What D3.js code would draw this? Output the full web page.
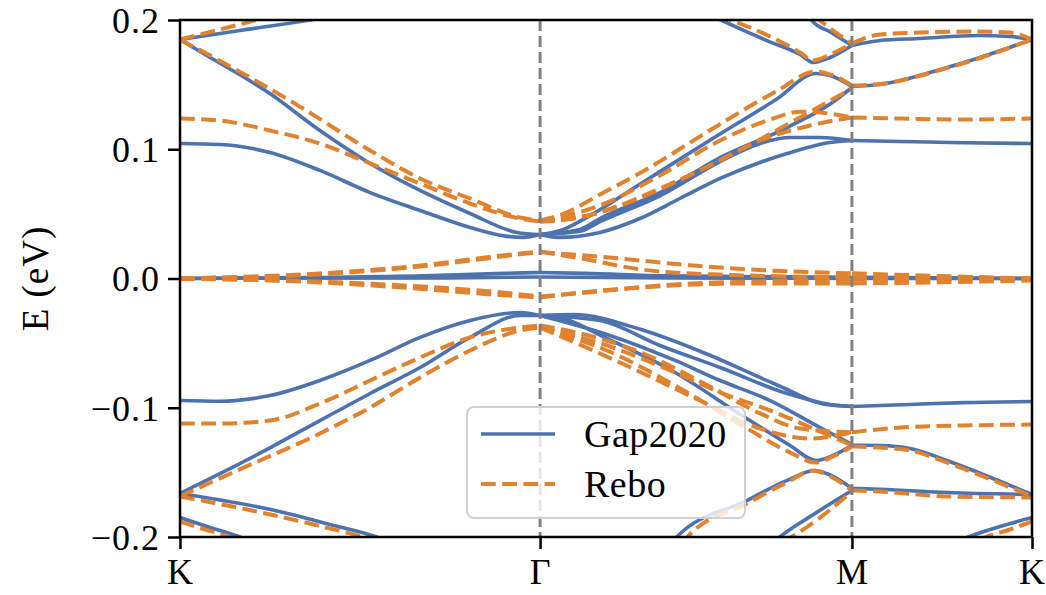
<!DOCTYPE html>
<html>
<head>
<meta charset="utf-8">
<script src="https://cdn.jsdelivr.net/npm/d3@7"></script>
<style>
  html, body { margin: 0; padding: 0; background: #fff; }
  svg text { font-family: "Liberation Serif", "DejaVu Serif", serif; fill: #000; }
</style>
</head>
<body>
<div id="chart"></div>
<script>

// high symmetry path K - Gamma - M - K (path length units)
var kTicks = [0, 1.3333, 2.4880, 3.1547];
var kLabels = ['K', 'Γ', 'M', 'K'];
var eTicks = [-0.2, -0.1, 0.0, 0.1, 0.2];

var seriesNames = ['Gap2020', 'Rebo'];
var seriesColors = ['#4c72b0', '#e1822f'];

// Gap2020 bands, [k, E (eV)]
var gapBands = [
  [[0,0.1044],[0.148,0.1037],[0.333,0.0975],[0.518,0.0836],[0.704,0.0665],[0.889,0.0526],[1.074,0.0395],[1.2,0.0330],[1.27,0.0318],[1.333,0.0340],[1.40,0.0318],[1.555,0.0356],[1.703,0.0464],[1.851,0.0619],[2.0,0.0774],[2.248,0.0967],[2.407,0.1052],[2.488,0.1068],[2.666,0.1060],[2.9,0.1050],[3.155,0.1044]],
  [[0,0.1849],[0.074,0.1756],[0.333,0.1431],[0.518,0.1145],[0.704,0.0890],[0.889,0.0681],[1.074,0.0503],[1.248,0.0356],[1.333,0.0340],[1.42,0.0380],[1.518,0.0487],[1.707,0.0735],[1.955,0.1060],[2.207,0.1385],[2.355,0.1586],[2.407,0.1571],[2.488,0.1485],[2.592,0.1501],[2.84,0.1632],[2.962,0.1710],[3.155,0.1849]],
  [[1.333,0.0340],[1.481,0.0380],[1.555,0.0464],[1.777,0.0665],[2.0,0.0936],[2.248,0.1168],[2.407,0.1350],[2.488,0.1478]],
  [[1.333,0.0340],[1.481,0.0365],[1.555,0.0440],[1.777,0.0640],[2.0,0.0905],[2.148,0.1045],[2.259,0.1091],[2.37,0.1091],[2.488,0.1068]],
  [[0,0],[0.5,0.0008],[0.9,0.0020],[1.2,0.0040],[1.333,0.0046],[1.5,0.0040],[1.8,0.0020],[2.488,0.0010],[3.155,0]],
  [[0,0],[1.0,0.0005],[1.333,0.0012],[1.8,0.0005],[2.488,0],[3.155,0]],
  [[0,0.1849],[0.222,0.1919],[0.47,0.1996],[0.55,0.2025]],
  [[1.966,0.2035],[2.007,0.1996],[2.173,0.1841],[2.296,0.1733],[2.344,0.1671],[2.407,0.1710],[2.488,0.1803],[2.592,0.1841],[2.74,0.1857],[2.955,0.1880],[3.073,0.1872],[3.155,0.1849]],
  [[2.325,0.2043],[2.34,0.1996],[2.411,0.1903],[2.488,0.1803]],
  [[0,-0.0944],[0.148,-0.0950],[0.333,-0.0906],[0.518,-0.0789],[0.704,-0.0634],[0.889,-0.0456],[1.074,-0.0325],[1.259,-0.0263],[1.333,-0.0286],[1.459,-0.0279],[1.707,-0.0395],[1.955,-0.0588],[2.207,-0.0820],[2.392,-0.0975],[2.488,-0.0990],[2.7,-0.0975],[2.9,-0.0960],[3.155,-0.0952]],
  [[0,-0.1663],[0.148,-0.1510],[0.333,-0.1310],[0.518,-0.1099],[0.704,-0.0890],[0.889,-0.0689],[1.074,-0.0456],[1.259,-0.0286],[1.333,-0.0286],[1.555,-0.0325],[1.777,-0.0518],[2.0,-0.0689],[2.248,-0.0890],[2.407,-0.0975],[2.488,-0.0990]],
  [[1.333,-0.0286],[1.407,-0.0302],[1.581,-0.0464],[1.833,-0.0727],[2.081,-0.1060],[2.259,-0.1292],[2.355,-0.1408],[2.418,-0.1369],[2.488,-0.1290],[2.592,-0.1292],[2.703,-0.1315],[2.84,-0.1408],[2.955,-0.1501],[3.155,-0.1671]],
  [[1.333,-0.0286],[1.581,-0.0433],[1.833,-0.0634],[2.0,-0.0789],[2.185,-0.0944],[2.37,-0.1153],[2.488,-0.1284]],
  [[1.82,-0.2055],[1.837,-0.2004],[2.099,-0.1718],[2.25,-0.1560],[2.351,-0.1486],[2.407,-0.1520],[2.488,-0.1625],[2.592,-0.1630],[2.84,-0.1656],[3.155,-0.1671]],
  [[2.2,-0.2035],[2.218,-0.2004],[2.351,-0.1818],[2.488,-0.1640]],
  [[0,-0.1663],[0.352,-0.1795],[0.555,-0.1903],[0.733,-0.2004],[0.76,-0.2025]],
  [[0,-0.1849],[0.111,-0.1926],[0.226,-0.2004],[0.25,-0.2025]],
  [[2.88,-0.2035],[2.914,-0.2004],[3.036,-0.1919],[3.155,-0.1849]]
];

// Rebo bands, [k, E (eV)]
var reboBands = [
  [[0,0.1849],[0.211,0.1612],[0.444,0.1330],[0.704,0.0990],[0.889,0.0774],[1.074,0.0619],[1.259,0.0472],[1.333,0.0449],[1.42,0.0500],[1.555,0.0650],[1.707,0.0820],[1.955,0.1137],[2.207,0.1447],[2.355,0.1601],[2.418,0.1571],[2.488,0.1493],[2.592,0.1505],[2.84,0.1628],[2.962,0.1706],[3.155,0.1849]],
  [[0,0.1238],[0.148,0.1222],[0.333,0.1145],[0.518,0.1044],[0.704,0.0890],[0.889,0.0735],[1.074,0.0580],[1.259,0.0464],[1.333,0.0441],[1.481,0.0472],[1.629,0.0565],[1.925,0.0836],[2.148,0.1068],[2.333,0.1184],[2.488,0.1246],[2.666,0.1238],[2.9,0.1230],[3.155,0.1238]],
  [[1.333,0.0441],[1.555,0.0511],[1.777,0.0696],[2.0,0.0913],[2.248,0.1191],[2.488,0.1470]],
  [[1.333,0.0441],[1.555,0.0565],[1.777,0.0797],[2.0,0.1068],[2.185,0.1230],[2.296,0.1290],[2.407,0.1275],[2.488,0.1246]],
  [[1.99,0.2035],[2.044,0.1996],[2.185,0.1872],[2.296,0.1749],[2.344,0.1687],[2.407,0.1733],[2.488,0.1818],[2.592,0.1888],[2.74,0.1903],[2.955,0.1911],[3.073,0.1903],[3.155,0.1849]],
  [[2.348,0.2035],[2.37,0.1996],[2.488,0.1818]],
  [[0,0.1849],[0.233,0.1973],[0.3,0.2010]],
  [[0,0],[0.518,0.0039],[0.889,0.0100],[1.2,0.0180],[1.333,0.0209],[1.5,0.0150],[1.707,0.0070],[2.0,0.0030],[2.488,0.0010],[3.155,0]],
  [[0,0],[0.518,0.0033],[0.889,0.0093],[1.2,0.0172],[1.333,0.0205],[1.6,0.0160],[1.9,0.0100],[2.2,0.0060],[2.488,0.0040],[2.8,0.0020],[3.155,0]],
  [[0,0],[0.518,-0.0030],[0.889,-0.0080],[1.2,-0.0130],[1.333,-0.0147],[1.5,-0.0105],[1.703,-0.0070],[2.074,-0.0039],[2.488,-0.0039],[2.8,-0.0030],[3.155,-0.0015]],
  [[0,0],[0.7,-0.0040],[1.2,-0.0110],[1.333,-0.0140],[1.5,-0.0110],[1.8,-0.0050],[2.2,-0.0020],[2.488,-0.0010],[3.155,0]],
  [[0,-0.1122],[0.148,-0.1122],[0.333,-0.1099],[0.518,-0.0967],[0.704,-0.0789],[0.889,-0.0611],[1.074,-0.0456],[1.259,-0.0379],[1.333,-0.0364],[1.45,-0.0410],[1.707,-0.0573],[1.955,-0.0828],[2.148,-0.1044],[2.296,-0.1161],[2.488,-0.1190],[2.666,-0.1153],[2.9,-0.1137],[3.155,-0.1130]],
  [[0,-0.1686],[0.211,-0.1486],[0.518,-0.1199],[0.704,-0.0998],[0.889,-0.0766],[1.074,-0.0557],[1.259,-0.0402],[1.333,-0.0379],[1.581,-0.0557],[1.833,-0.0828],[2.081,-0.1137],[2.259,-0.1346],[2.351,-0.1424],[2.418,-0.1377],[2.488,-0.1300],[2.592,-0.1308],[2.703,-0.1330],[2.84,-0.1424],[2.955,-0.1515],[3.155,-0.1686]],
  [[1.333,-0.0379],[1.581,-0.0518],[1.833,-0.0727],[2.0,-0.0882],[2.185,-0.1021],[2.37,-0.1184],[2.488,-0.1292]],
  [[1.333,-0.0379],[1.629,-0.0650],[1.925,-0.0944],[2.148,-0.1161],[2.333,-0.1238],[2.488,-0.1190]],
  [[1.86,-0.2055],[1.877,-0.2004],[2.099,-0.1741],[2.25,-0.1575],[2.344,-0.1486],[2.407,-0.1530],[2.488,-0.1640],[2.592,-0.1648],[2.84,-0.1686],[3.155,-0.1694]],
  [[2.23,-0.2035],[2.259,-0.2004],[2.488,-0.1648]],
  [[0,-0.1686],[0.352,-0.1834],[0.555,-0.1934],[0.685,-0.2004],[0.72,-0.2025]],
  [[0,-0.1880],[0.093,-0.1942],[0.193,-0.2004],[0.22,-0.2025]],
  [[2.96,-0.2025],[2.981,-0.2004],[3.073,-0.1942],[3.155,-0.1880]]
];

// split a band at the high symmetry points so kinks stay sharp
function splitAtTicks(band) {
  var segs = [], cur = [];
  band.forEach(function (p) {
    cur.push(p);
    var atTick = kTicks.some(function (t) { return Math.abs(p[0] - t) < 0.003; });
    if (atTick && cur.length > 1) { segs.push(cur); cur = [p]; }
  });
  if (cur.length > 1) segs.push(cur);
  return segs;
}

var width = 1046, height = 595;
var plot = { left: 180, right: 1032, top: 20, bottom: 537 };
var fontSize = 36;

var x = d3.scaleLinear()
  .domain([kTicks[0], kTicks[kTicks.length - 1]])
  .range([plot.left, plot.right]);

var y = d3.scaleLinear()
  .domain([-0.2, 0.2])
  .range([plot.bottom, plot.top]);

var svg = d3.select('#chart').append('svg')
  .attr('width', width)
  .attr('height', height);

svg.append('clipPath')
    .attr('id', 'clip')
  .append('rect')
    .attr('x', plot.left)
    .attr('y', plot.top)
    .attr('width', plot.right - plot.left)
    .attr('height', plot.bottom - plot.top);

var line = d3.line()
  .x(function (d) { return x(d[0]); })
  .y(function (d) { return y(d[1]); })
  .curve(d3.curveMonotoneX);

var bandsGroup = svg.append('g').attr('clip-path', 'url(#clip)');

// Gap2020 solid
gapBands.forEach(function (b) {
  splitAtTicks(b).forEach(function (seg) {
    bandsGroup.append('path')
      .attr('d', line(seg))
      .attr('fill', 'none')
      .attr('stroke', seriesColors[0])
      .attr('stroke-width', 3.6);
  });
});

// Rebo dashed
reboBands.forEach(function (b) {
  bandsGroup.append('path')
    .attr('d', splitAtTicks(b).map(function (s) { return line(s); }).join(''))
    .attr('fill', 'none')
    .attr('stroke', seriesColors[1])
    .attr('stroke-width', 4)
    .attr('stroke-dasharray', '14.8,6.4');
});

// vertical lines at inner high symmetry points
bandsGroup.selectAll('line.vl')
    .data(kTicks.slice(1, -1))
    .enter()
  .append('line')
    .attr('class', 'vl')
    .attr('x1', function (d) { return x(d); })
    .attr('x2', function (d) { return x(d); })
    .attr('y1', plot.top)
    .attr('y2', plot.bottom)
    .attr('stroke', '#808080')
    .attr('stroke-width', 3)
    .attr('stroke-dasharray', '11,5');

// axes
var yAxis = svg.append('g')
    .attr('transform', 'translate(' + plot.left + ',0)')
    .call(d3.axisLeft(y)
      .tickValues(eTicks)
      .tickSize(12)
      .tickPadding(8)
      .tickFormat(function (d) { return d.toFixed(1).replace('-', '\u2212'); }));

var xAxis = svg.append('g')
    .attr('transform', 'translate(0,' + plot.bottom + ')')
    .call(d3.axisBottom(x)
      .tickValues(kTicks)
      .tickSize(12)
      .tickPadding(9)
      .tickFormat(function (d, i) { return kLabels[i]; }));

[xAxis, yAxis].forEach(function (a) {
  a.select('.domain').remove();
  a.selectAll('.tick line').attr('stroke', '#000').attr('stroke-width', 2.5);
  a.selectAll('.tick text')
    .attr('font-size', fontSize)
    .attr('font-family', '"Liberation Serif", serif')
    .attr('letter-spacing', 1);
});
yAxis.selectAll('.tick text').attr('dy', '0.34em');

// frame
svg.append('rect')
  .attr('x', plot.left)
  .attr('y', plot.top)
  .attr('width', plot.right - plot.left)
  .attr('height', plot.bottom - plot.top)
  .attr('fill', 'none')
  .attr('stroke', '#000')
  .attr('stroke-width', 2.5);

// y label
svg.append('text')
  .attr('transform', 'translate(48,' + y(0) + ') rotate(-90)')
  .attr('text-anchor', 'middle')
  .attr('font-size', fontSize + 1)
  .attr('letter-spacing', 1)
  .text('E (eV)');

// legend
var legend = svg.append('g').attr('transform', 'translate(467,407)');

legend.append('rect')
  .attr('width', 278)
  .attr('height', 111)
  .attr('rx', 7)
  .attr('fill', '#fff')
  .attr('fill-opacity', 0.8)
  .attr('stroke', '#d0d0d0')
  .attr('stroke-width', 2);

seriesNames.forEach(function (name, i) {
  var ly = 27 + i * 50;
  legend.append('line')
    .attr('x1', 14)
    .attr('x2', 88)
    .attr('y1', ly)
    .attr('y2', ly)
    .attr('stroke', seriesColors[i])
    .attr('stroke-width', i === 0 ? 3.6 : 4)
    .attr('stroke-dasharray', i === 0 ? null : '14.8,6.4');
  legend.append('text')
    .attr('x', 117)
    .attr('y', ly + 13)
    .attr('font-size', fontSize + 2)
    .attr('letter-spacing', 0.5)
    .text(name);
});

</script>
</body>
</html>
